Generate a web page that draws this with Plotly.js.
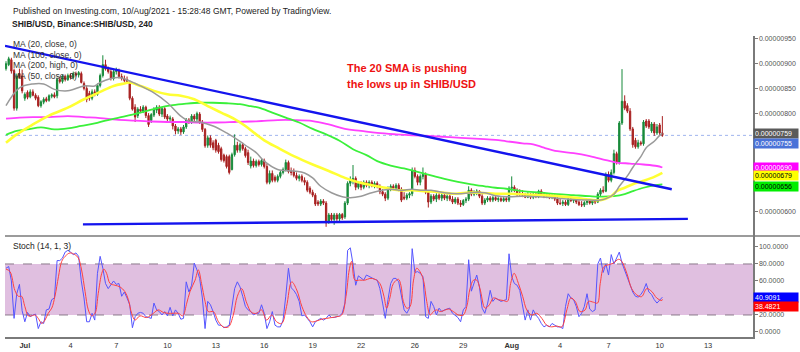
<!DOCTYPE html>
<html>
<head>
<meta charset="utf-8">
<script src="https://cdn.plot.ly/plotly-3.0.1.min.js"></script>
<style>html,body{margin:0;padding:0;background:#fff;}#chart{width:800px;height:352px;}</style>
</head>
<body>
<div id="chart"></div>
<script>
// Prices in units of 1e-8 USD (e.g. 759 = 0.00000759)
const SCALE = 1e-8;

const candleOpen = [
890,898,908,886,810,880,875,830,842,833,
843,836,832,815,822,829,826,834,837,835,
868,864,874,868,876,872,880,877,880,860,
850,840,830,843,838,856,876,898,889,884,
870,884,886,874,870,868,862,830,812,795,
808,804,812,795,785,796,806,812,798,809,
794,788,788,774,764,768,762,772,786,781,
794,788,798,782,767,735,750,740,745,735,
728,715,712,712,686,716,735,725,736,728,
720,693,703,694,702,696,704,692,660,678,
670,664,672,680,686,700,682,682,674,668,
672,664,660,648,640,634,620,616,622,618,
580,594,585,594,586,595,590,618,658,662,
668,650,658,650,660,654,660,653,658,652,
641,636,628,648,652,648,654,646,630,628,
634,637,684,672,660,672,676,640,620,632,
626,634,628,634,628,632,626,620,626,618,
615,623,626,644,636,640,642,632,618,624,
628,624,629,625,627,623,627,624,648,650,
644,638,636,634,630,636,630,636,632,642,
636,632,635,630,633,626,618,617,620,615,
626,623,626,620,615,614,619,622,618,623,
620,636,644,642,676,664,680,718,700,780,
824,815,804,768,745,732,740,738,784,784,
764,778,760,776,760];

const candleHigh = [
905,914,912,890,880,890,888,842,846,848,
848,840,836,826,832,833,838,840,842,872,
874,878,878,880,880,884,884,885,884,864,
855,845,848,848,860,880,917,908,894,890,
888,892,890,880,876,874,866,834,818,812,
814,816,815,800,800,812,816,816,812,812,
798,795,792,778,772,772,776,790,790,798,
798,803,802,786,770,755,755,745,748,740,
732,718,716,716,720,757,742,740,740,732,
726,712,708,706,706,708,708,698,684,684,
674,676,684,690,706,704,690,688,680,676,
676,670,664,652,645,638,624,626,626,622,
598,598,598,598,598,598,622,662,672,695,
672,662,662,664,664,664,664,662,662,656,
646,640,652,656,656,658,658,650,640,638,
640,690,690,676,676,690,680,644,636,636,
638,638,638,638,636,636,632,630,630,624,
626,630,652,648,644,646,644,636,628,632,
632,632,632,630,630,630,630,652,672,654,
648,646,644,638,640,638,640,640,645,646,
640,638,638,636,636,630,626,624,624,630,
630,630,628,624,622,622,626,626,626,626,
640,648,652,680,682,686,726,722,784,889,
836,820,810,772,750,746,744,786,788,788,
782,782,778,780,794];

const candleLow = [
886,895,880,805,805,870,840,825,828,830,
834,826,812,811,818,822,823,830,830,830,
860,860,864,865,868,868,874,872,860,846,
822,825,826,834,835,852,872,886,880,866,
866,878,870,866,862,860,826,805,782,790,
800,800,790,772,780,792,800,794,792,788,
784,782,767,757,758,756,758,768,778,778,
784,784,778,762,730,730,730,725,720,718,
702,700,688,676,684,712,720,720,724,710,
695,688,690,690,692,692,688,656,656,660,
660,660,668,676,682,678,674,670,664,662,
660,654,640,636,630,612,612,612,614,570,
576,582,574,582,580,584,586,614,652,656,
644,646,644,646,650,648,650,648,648,636,
632,622,624,642,644,644,642,620,624,624,
628,632,668,654,654,666,636,609,616,622,
620,624,622,624,622,622,616,616,614,610,
612,618,622,632,632,634,628,614,614,620,
620,620,622,620,620,620,620,620,640,640,
632,632,630,628,628,626,626,628,628,632,
628,628,626,626,622,614,614,612,612,612,
620,618,616,612,610,610,614,615,614,616,
618,632,638,640,660,660,676,696,696,776,
806,800,764,730,728,728,734,734,770,768,
760,754,756,755,752];

const candleClose = [
900,910,885,810,875,872,845,838,832,843,
836,830,815,823,828,825,835,837,833,868,
864,874,868,876,872,880,877,882,862,850,
828,830,843,838,856,876,898,889,884,870,
884,886,874,870,866,862,830,808,792,808,
804,812,795,777,797,808,812,798,809,792,
788,790,774,764,768,762,772,786,781,794,
788,799,782,767,734,750,735,730,725,722,
706,704,692,680,716,735,725,736,728,714,
700,703,694,702,696,704,692,660,678,664,
664,672,680,686,700,682,680,674,668,672,
664,660,644,640,634,616,616,622,618,578,
594,585,594,586,595,588,618,658,665,668,
650,658,650,660,654,660,653,658,652,641,
636,628,648,652,648,654,646,624,628,634,
637,684,672,660,672,676,640,620,632,626,
634,628,634,628,632,626,620,626,618,615,
623,626,644,636,640,642,632,618,624,628,
624,629,625,627,623,627,624,648,650,644,
638,636,634,630,636,630,636,632,642,636,
632,635,630,633,626,618,617,620,615,626,
623,626,620,615,614,619,622,618,623,620,
636,644,642,676,664,680,718,700,780,824,
810,804,768,736,732,740,738,782,774,772,
778,760,772,760,755];

// Moving averages (bar index, value)
const ma20Idx = [0,5,10,14,18,23,29,33,35,39,42,46,50,55,60,65,68,72,77,82,87,89,93,96,101,107,111,114,117,121,125,128,132,136,140,143,147,151,154,158,163,168,173,178,182,187,192,198,205,211,217,221,223,226,228,231,233,236,238,241,243,244];
const ma20 = [815,851,859,859,848,845,855,855,862,870,872,865,855,841,821,794,784,782,774,760,743,735,720,703,686,683,679,669,652,639,631,629,632,639,644,646,644,646,644,644,639,637,639,639,633,631,632,631,628,625,624,624,627,636,652,673,690,712,730,743,755,759];

const ma50Idx = [0,4,10,16,23,29,35,40,44,46,50,55,60,65,70,75,80,85,89,93,96,101,107,114,120,126,131,136,141,146,151,156,161,166,171,176,182,186,192,199,205,211,217,221,225,227,230,233,237,241,244];
const ma50 = [740,757,777,795,811,828,843,855,860,862,855,845,838,835,828,814,801,788,774,757,745,730,713,696,683,669,660,654,649,644,644,642,640,637,639,639,637,637,636,634,632,629,625,624,632,642,649,656,663,671,679];

const ma100Idx = [0,4,8,13,18,23,28,33,37,42,47,52,57,62,67,72,77,82,87,91,94,99,104,109,114,119,124,129,134,138,143,148,153,158,163,168,173,178,182,186,192,199,205,211,217,222,226,230,233,237,241,244];
const ma100 = [756,764,767,771,767,769,774,779,785,791,797,804,811,816,819,821,821,820,818,814,811,801,791,781,768,757,744,727,715,703,694,688,681,674,667,661,656,652,649,647,642,639,636,634,632,631,632,636,642,649,654,656];

const ma200Idx = [0,5,10,16,23,29,35,41,47,54,60,66,72,78,85,91,95,101,107,114,120,126,132,138,145,151,157,163,169,176,182,186,192,196,200,205,211,217,223,227,232,237,242,244];
const ma200 = [789,791,792,792,794,792,790,787,785,783,782,782,781,781,782,783,784,786,786,784,777,768,764,760,757,755,754,752,750,748,746,743,739,737,730,723,719,713,705,700,698,696,693,690];

// Drawn trend lines (bar index, price)
const resistIdx = [-0.37, 247.5];
const resistVal = [936, 646];
const supportIdx = [28.6, 253.5];
const supportVal = [575, 586];

// Stochastic (14,1,3)
const stochK = [
75,77,60,16,45,56,25,12,23,18,
20,21,4,12,10,26,27,38,40,84,
84,87,94,96,94,91,93,89,60,40,
12,12,22,14,69,89,75,57,51,55,
60,56,57,42,47,40,32,5,18,22,
23,22,18,17,16,34,26,24,20,24,
19,29,19,26,22,15,16,59,47,55,
81,73,63,40,4,36,32,24,14,8,
8,5,6,8,28,51,59,53,42,30,
26,24,20,22,22,32,22,4,12,24,
8,6,6,14,42,75,52,49,44,36,
19,20,16,12,6,12,14,16,14,16,
20,17,17,18,19,22,34,96,99,80,
55,66,63,61,67,65,63,62,61,51,
34,16,38,57,63,63,59,42,26,22,
28,98,70,71,69,65,18,16,36,30,
20,28,24,26,27,28,22,20,17,12,
26,30,85,48,57,67,53,28,22,33,
49,36,40,38,36,37,38,92,65,57,
55,49,30,14,26,14,26,20,16,10,
6,8,6,10,8,6,6,4,30,45,
40,38,30,18,22,30,45,27,24,26,
80,87,70,80,67,91,80,87,94,81,
73,65,55,47,42,41,44,49,57,47,
44,38,34,37,40.9091];

const stochDIdx = [0,1.5,3.3,4.6,5.8,7,8.3,9.5,10.8,12,13.3,14.5,15.7,17,18.2,19.5,20.7,22,23.8,25.6,26.9,28.1,29.4,30.6,31.8,33.1,34.3,35.6,36.4,37.4,38.7,40.5,42.4,44.2,45.5,46.7,48,49.8,52.3,54.8,56.6,58.5,60.3,62.2,64.1,65.7,67.2,68.4,70.3,71.5,72.7,74,75.2,77.1,79,80.8,82.7,84.5,86,87.6,89.5,91.3,93.2,95,96.9,98.8,100.6,102.5,104.3,106.2,108.1,110,111.8,113.6,115.5,117.3,119.2,121.1,123,124.8,126.4,127.6,128.5,129.7,131.4,133.5,135.3,137.2,139,140.5,141.5,142.7,144,145.9,146.8,147.7,149,150.2,151.5,152.7,153.9,155.2,156.4,157.7,158.9,160.1,161.4,162.6,164.5,166.3,168.2,170,171.3,172.5,173.8,175,176.2,178.1,179.7,181.2,183.1,184.9,186.4,187.6,188.9,190.5,192.1,193.6,195.4,197.3,199.2,201,202.9,204.7,206.6,208.5,210,211.6,213.4,215.3,216.5,218.4,219.9,220.9,222.3,223.9,225.8,227.7,228.9,230.8,232.6,234.5,236.3,238.2,240.1,241.9,243.8,244];
const stochD = [74,71,49,42,42,30,19,19,20,16,10,14,22,28,42,65,83,89,93,91,87,73,47.5,26,19,22,45.5,69,74,69,57,55,53,47.5,38,22,14,19,17,22,26,23,22,22,22,19,34,47.5,61,73,57,36,24,24,12,6,6,20,42,51,34,23,22,26,14,20,12,10,30,59,49.4,30,18,12,13,15,16,17,18,20,42,73,83,61,61,61,63,62,57,42,28,40,57,62,55,36,28,30,61,75,71,61,36,20,24,26,24,25,27,24,20,20,30,51,61,61,51,28,32,40,38,37,36,57,69,57,41.6,26,20,22,16,8,6,7,6,26,40,36,24,26,36,35,34,57,77,79,81,85.5,83,69,51,43.6,41.6,51,47.5,40,37,38.4821];

const tickIdx = [7,24,41,60,78,96,114,132,152,170,188,206,224,243,261];
const tickLabels = ['<b>Jul</b>','4','7','10','13','16','19','22','26','29','<b>Aug</b>','4','7','10','13'];

// Price-axis labels left visible (the others sit behind the value badges)
const priceTicks = [600, 800, 850, 900, 950];
const stochTicks = [0, 20, 60, 80, 100];

const maLabels = ['MA (20, close, 0)','MA (100, close, 0)','MA (200, high, 0)','MA (50, close, 0)'];

// ---------- build ----------
const bars = candleOpen.map((_, i) => i);
const sc = a => a.map(v => v * SCALE);
const FONT = 'Liberation Sans, Arial, sans-serif';

const traces = [
  {type:'candlestick', x:bars, open:sc(candleOpen), high:sc(candleHigh), low:sc(candleLow), close:sc(candleClose),
   xaxis:'x', yaxis:'y', whiskerwidth:0,
   increasing:{line:{color:'#178a3a', width:1}, fillcolor:'#178a3a'},
   decreasing:{line:{color:'#a82020', width:1}, fillcolor:'#a82020'}, hoverinfo:'skip'},
  {type:'scatter', mode:'lines', x:ma200Idx, y:sc(ma200), line:{color:'#ff40ff', width:1.8, shape:'spline'}, xaxis:'x', yaxis:'y'},
  {type:'scatter', mode:'lines', x:ma100Idx, y:sc(ma100), line:{color:'#3af03a', width:1.8, shape:'spline'}, xaxis:'x', yaxis:'y'},
  {type:'scatter', mode:'lines', x:ma50Idx, y:sc(ma50), line:{color:'#ffff33', width:2.6, shape:'spline'}, xaxis:'x', yaxis:'y'},
  {type:'scatter', mode:'lines', x:ma20Idx, y:sc(ma20), line:{color:'#9a9a9a', width:1.5, shape:'spline'}, xaxis:'x', yaxis:'y'},
  {type:'scatter', mode:'lines', x:resistIdx, y:sc(resistVal), line:{color:'#1414ee', width:2.4}, xaxis:'x', yaxis:'y'},
  {type:'scatter', mode:'lines', x:supportIdx, y:sc(supportVal), line:{color:'#1414ee', width:2.4}, xaxis:'x', yaxis:'y'},
  {type:'scatter', mode:'lines', x:bars, y:stochK, line:{color:'#5555ff', width:1}, xaxis:'x', yaxis:'y2'},
  {type:'scatter', mode:'lines', x:stochDIdx, y:stochD, line:{color:'#ff4040', width:1, shape:'spline'}, xaxis:'x', yaxis:'y2'}
];

const lastClose = candleClose[candleClose.length-1];
const SPLIT = 101/301;

const shapes = [
  {type:'rect', xref:'paper', yref:'y2', x0:0, x1:1, y0:20, y1:80, fillcolor:'#e0bfe0', line:{width:0}, layer:'below'},
  {type:'line', xref:'paper', yref:'y2', x0:0, x1:1, y0:80, y1:80, line:{color:'#8a7a8a', width:1, dash:'dash'}, layer:'below'},
  {type:'line', xref:'paper', yref:'y2', x0:0, x1:1, y0:20, y1:20, line:{color:'#8a7a8a', width:1, dash:'dash'}, layer:'below'},
  {type:'line', xref:'paper', yref:'y', x0:0, x1:1, y0:lastClose*SCALE, y1:lastClose*SCALE, line:{color:'#9fb4ee', width:1, dash:'dot'}, layer:'below'},
  {type:'line', xref:'paper', yref:'paper', x0:0, x1:795/748, y0:SPLIT, y1:SPLIT, line:{color:'#7a7a7a', width:1.5}}
];

function txt(x, y, text, opts) {
  return Object.assign({xref:'paper', yref:'paper', x:x, y:y, text:text, showarrow:false, xanchor:'left', yanchor:'middle',
    font:{family:FONT, size:8.5, color:'#222'}}, opts || {});
}
function badge(val, yref, bg, fg, yshift, digits) {
  return {xref:'paper', yref:yref, x:1, y:val, text:val.toFixed(digits), showarrow:false, xanchor:'left', yanchor:'middle',
    yshift:yshift, bgcolor:bg, borderpad:1, width:42, align:'left', font:{family:FONT, size:7, color:fg}};
}

const annotations = [
  txt(6/748, 1.083, 'Published on Investing.com, 10/Aug/2021 - 15:28:48 GMT, Powered by TradingView.'),
  txt(5/748, 1.040, '<b>SHIB/USD, Binance:SHIB/USD, 240</b>'),
  txt(6/748, (337-44)/301, maLabels[0], {font:{family:FONT, size:8.5, color:'#333'}}),
  txt(6/748, (337-54.5)/301, maLabels[1], {font:{family:FONT, size:8.5, color:'#333'}}),
  txt(6/748, (337-65)/301, maLabels[2], {font:{family:FONT, size:8.5, color:'#333'}}),
  txt(6/748, (337-76)/301, maLabels[3], {font:{family:FONT, size:8.5, color:'#333'}}),
  txt(6/748, (337-246)/301, 'Stoch (14, 1, 3)', {font:{family:FONT, size:8.5, color:'#222'}}),
  txt((345-5)/748, (337-68)/301, '<b>The 20 SMA is pushing</b>', {font:{family:FONT, size:11, color:'#ee1111'}}),
  txt((345-5)/748, (337-84)/301, '<b>the lows up in SHIB/USD</b>', {font:{family:FONT, size:11, color:'#ee1111'}}),
  badge(ma20[ma20.length-1]*SCALE, 'y', '#5a5a5a', '#ffffff', 0, 8),
  badge(lastClose*SCALE, 'y', '#4a72d8', '#ffffff', -8, 8),
  badge(ma200[ma200.length-1]*SCALE, 'y', '#ff00ff', '#ffffff', 0, 8),
  badge(ma50[ma50.length-1]*SCALE, 'y', '#ffff00', '#000000', -3, 8),
  badge(ma100[ma100.length-1]*SCALE, 'y', '#00ee00', '#000000', -2, 8),
  badge(stochK[stochK.length-1], 'y2', '#0000ff', '#ffffff', 0, 4),
  badge(stochD[stochD.length-1], 'y2', '#ff0000', '#ffffff', -7, 4)
];

const layout = {
  width:800, height:352,
  margin:{l:5, r:47, t:36, b:15, pad:0},
  paper_bgcolor:'#ffffff', plot_bgcolor:'#ffffff',
  showlegend:false, hovermode:false,
  font:{family:FONT, size:8, color:'#444'},
  xaxis:{domain:[0,1], range:[-0.37, 277.7], anchor:'y2', showline:true, linecolor:'#7a7a7a', linewidth:1.5,
    tickmode:'array', tickvals:tickIdx, ticktext:tickLabels, ticks:'', tickfont:{family:FONT, size:7.5, color:'#333'},
    showgrid:false, zeroline:false, rangeslider:{visible:false}, fixedrange:true},
  yaxis:{domain:[SPLIT, 1], range:[551.4*SCALE, 956*SCALE], side:'right', anchor:'x', showline:true, linecolor:'#7a7a7a', linewidth:1.5,
    ticks:'outside', ticklen:3, tickcolor:'#7a7a7a', tickformat:'.8f', tickmode:'array', tickvals:sc(priceTicks),
    tickfont:{family:FONT, size:7, color:'#555'}, showgrid:false, zeroline:false, fixedrange:true},
  yaxis2:{domain:[0, SPLIT], range:[-5.9, 112.9], side:'right', anchor:'x', showline:true, linecolor:'#7a7a7a', linewidth:1.5,
    ticks:'outside', ticklen:3, tickcolor:'#7a7a7a', tickformat:'.4f', tickmode:'array', tickvals:stochTicks,
    tickfont:{family:FONT, size:7, color:'#555'}, showgrid:false, zeroline:false, fixedrange:true},
  shapes:shapes,
  annotations:annotations
};

Plotly.newPlot('chart', traces, layout, {staticPlot:true, displayModeBar:false});
</script>
</body>
</html>
